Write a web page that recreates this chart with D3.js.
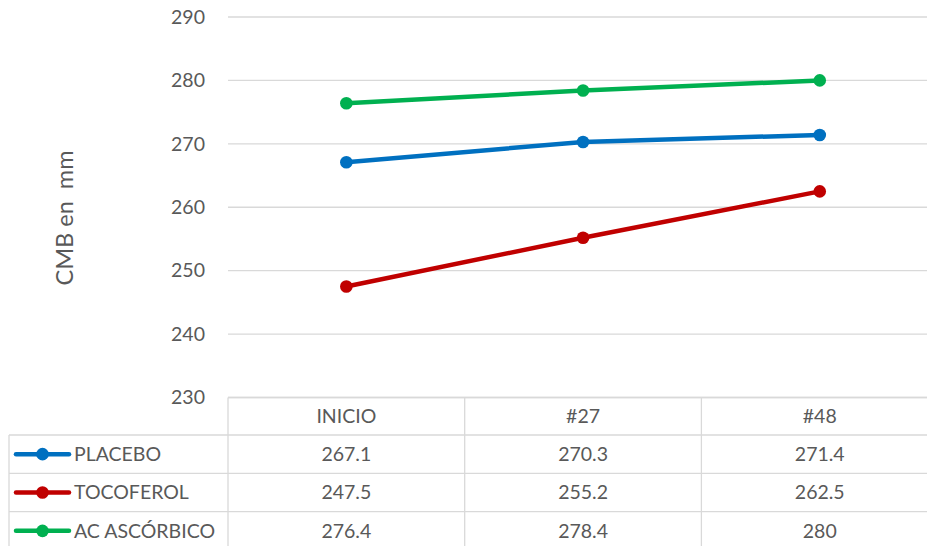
<!DOCTYPE html>
<html><head><meta charset="utf-8">
<script src="https://cdn.jsdelivr.net/npm/d3@7"></script>
<style>body{margin:0;background:#fff}svg{display:block}text{font-family:Lato,"Open Sans",sans-serif;fill:#595959}</style>
</head><body>
<script>
const categories = ["INICIO", "#27", "#48"];
const seriesNames = ["PLACEBO", "TOCOFEROL", "AC ASCÓRBICO"];
const placebo = [267.1, 270.3, 271.4];
const tocoferol = [247.5, 255.2, 262.5];
const ascorbico = [276.4, 278.4, 280];
const yTicks = [230, 240, 250, 260, 270, 280, 290];
const colors = ["#0070C0", "#C00000", "#00B050"];
const series = [placebo, tocoferol, ascorbico];

const W = 927, H = 546;
const svg = d3.select("body").append("svg").attr("width", W).attr("height", H);
const plotLeft = 228, colW = 236.7, plotTop = 17, plotBottom = 397.5;
const x = d3.scaleBand().domain(categories).range([plotLeft, plotLeft + colW * categories.length]);
const y = d3.scaleLinear().domain([230, 290]).range([plotBottom, plotTop]);
const fs = 19.5;

// gridlines
svg.append("g").selectAll("line").data(yTicks).join("line")
  .attr("x1", plotLeft).attr("x2", W).attr("y1", d => y(d)).attr("y2", d => y(d))
  .attr("stroke", "#d9d9d9").attr("stroke-width", 1.3);
// tick labels
svg.append("g").selectAll("text").data(yTicks).join("text")
  .attr("x", 205).attr("y", d => y(d)).attr("dy", "0.35em").attr("text-anchor", "end")
  .attr("font-size", fs).text(d => d);
// axis title
svg.append("text").attr("transform", `translate(${65},${218}) rotate(-90)`)
  .attr("text-anchor", "middle").attr("dy", "0.35em").attr("font-size", 23.5).attr("xml:space","preserve").text("CMB en  mm");

// lines
const line = d3.line().x((d, i) => x(categories[i]) + x.bandwidth() / 2).y(d => y(d));
series.forEach((s, k) => {
  svg.append("path").datum(s).attr("d", line).attr("fill", "none")
    .attr("stroke", colors[k]).attr("stroke-width", 4.5).attr("stroke-linecap", "round");
  svg.append("g").selectAll("circle").data(s).join("circle")
    .attr("cx", (d, i) => x(categories[i]) + x.bandwidth() / 2).attr("cy", d => y(d))
    .attr("r", 6.3).attr("fill", colors[k]);
});

// data table
const rowY = [397.5, 435, 473.3, 511.7, 550];
const tLeft = 9;
const g = svg.append("g").attr("stroke", "#d9d9d9").attr("stroke-width", 1.3);
rowY.slice(0, 4).forEach((yy, i) => {
  g.append("line").attr("x1", i === 0 ? plotLeft : tLeft).attr("x2", W).attr("y1", yy).attr("y2", yy);
});
g.append("line").attr("x1", tLeft).attr("x2", tLeft).attr("y1", rowY[1]).attr("y2", H);
categories.forEach(c => {
  g.append("line").attr("x1", x(c)).attr("x2", x(c)).attr("y1", rowY[0]).attr("y2", H);
});
svg.append("g").selectAll("text").data(categories).join("text")
  .attr("x", d => x(d) + x.bandwidth() / 2).attr("y", (rowY[0] + rowY[1]) / 2).attr("dy", "0.35em")
  .attr("text-anchor", "middle").attr("font-size", fs).text(d => d);
series.forEach((s, k) => {
  const cy = (rowY[k + 1] + rowY[k + 2]) / 2;
  svg.append("line").attr("x1", 16).attr("x2", 69).attr("y1", cy).attr("y2", cy)
    .attr("stroke", colors[k]).attr("stroke-width", 4.5).attr("stroke-linecap", "round");
  svg.append("circle").attr("cx", 42.5).attr("cy", cy).attr("r", 6.3).attr("fill", colors[k]);
  svg.append("text").attr("x", 74).attr("y", cy).attr("dy", "0.35em").attr("font-size", fs).text(seriesNames[k]);
  svg.append("g").selectAll("text").data(s).join("text")
    .attr("x", (d, i) => x(categories[i]) + x.bandwidth() / 2).attr("y", cy).attr("dy", "0.35em")
    .attr("text-anchor", "middle").attr("font-size", fs).text(d => d);
});
</script>
</body></html>
